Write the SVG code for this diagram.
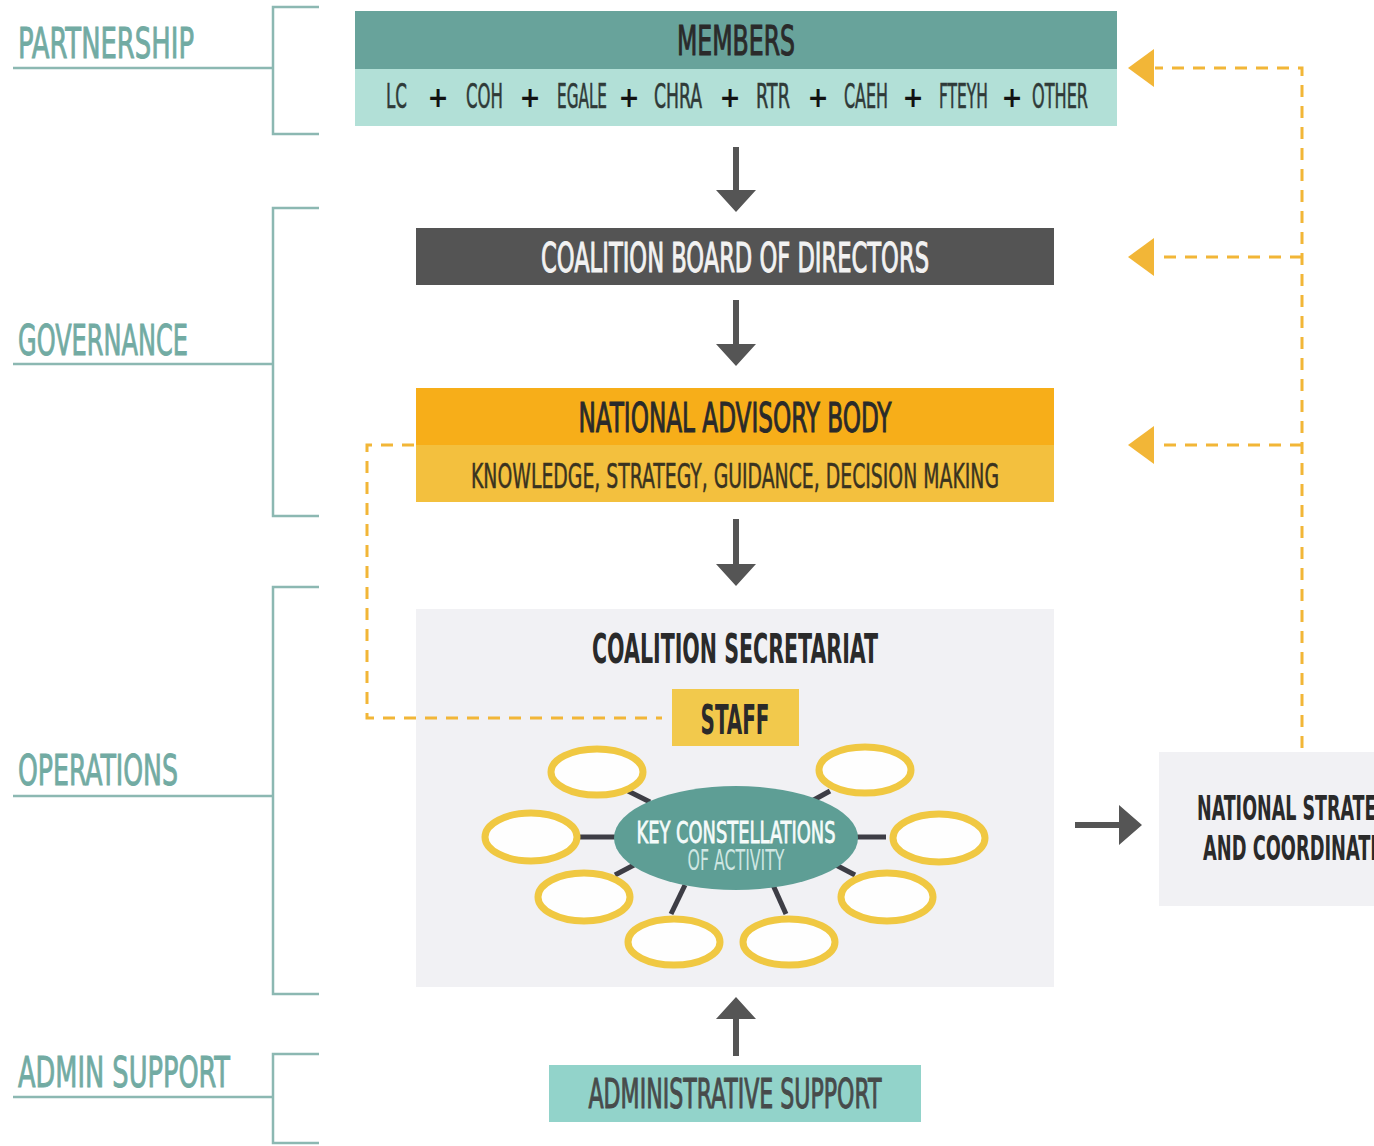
<svg xmlns="http://www.w3.org/2000/svg" width="1374" height="1146" viewBox="0 0 1374 1146">
<style>
text{font-family:"DejaVu Sans Condensed","Liberation Sans Narrow","Liberation Sans",sans-serif;font-stretch:condensed}
.lbl{fill:#72aba3;stroke:#72aba3;stroke-width:0.9;font-size:43px}
.brk{fill:none;stroke:#8cb8b2;stroke-width:2.5}
.dk{fill:#2a2a2a}
.h{font-size:40px;text-anchor:middle}
.t{stroke-width:1}
.m{font-size:33px;fill:#2f3a38;stroke:#2f3a38;stroke-width:0.6}
.plus{font-size:28px;font-weight:bold;fill:#111;text-anchor:middle}
.arr{fill:#555555}
.dash{fill:none;stroke:#f2b637;stroke-width:3;stroke-dasharray:12 9}
.oh{fill:#f2b637}
.sat{fill:#fefefe;stroke:#f0c842;stroke-width:7}
.spk{stroke:#3d3d45;stroke-width:5}
</style>
<g id="side-labels">
<text class="lbl" x="18" y="58" textLength="176" lengthAdjust="spacingAndGlyphs">PARTNERSHIP</text>
<path class="brk" d="M13 68H273M319 7H273V134H319"/>
<text class="lbl" x="18" y="355" textLength="170" lengthAdjust="spacingAndGlyphs">GOVERNANCE</text>
<path class="brk" d="M13 364H273M319 208H273V516H319"/>
<text class="lbl" x="18" y="785" textLength="160" lengthAdjust="spacingAndGlyphs">OPERATIONS</text>
<path class="brk" d="M13 796H273M319 587H273V994H319"/>
<text class="lbl" x="18" y="1087" textLength="212" lengthAdjust="spacingAndGlyphs">ADMIN SUPPORT</text>
<path class="brk" d="M13 1097H273M319 1054H273V1143H319"/>
</g>
<g id="members">
<rect x="355" y="11" width="762" height="58" fill="#68a39b"/>
<rect x="355" y="69" width="762" height="57" fill="#b2e0d7"/>
<text class="h dk t" stroke="#2a2a2a" x="736" y="55" font-size="39" textLength="118" lengthAdjust="spacingAndGlyphs">MEMBERS</text>
<text class="m" x="386" y="108" textLength="21" lengthAdjust="spacingAndGlyphs">LC</text>
<text class="m" x="466" y="108" textLength="37" lengthAdjust="spacingAndGlyphs">COH</text>
<text class="m" x="557" y="108" textLength="50" lengthAdjust="spacingAndGlyphs">EGALE</text>
<text class="m" x="654" y="108" textLength="48" lengthAdjust="spacingAndGlyphs">CHRA</text>
<text class="m" x="756" y="108" textLength="34" lengthAdjust="spacingAndGlyphs">RTR</text>
<text class="m" x="844" y="108" textLength="44" lengthAdjust="spacingAndGlyphs">CAEH</text>
<text class="m" x="939" y="108" textLength="49" lengthAdjust="spacingAndGlyphs">FTEYH</text>
<text class="m" x="1032" y="108" textLength="56" lengthAdjust="spacingAndGlyphs">OTHER</text>
<text class="plus" x="438" y="107">+</text>
<text class="plus" x="530" y="107">+</text>
<text class="plus" x="629" y="107">+</text>
<text class="plus" x="730" y="107">+</text>
<text class="plus" x="818" y="107">+</text>
<text class="plus" x="913" y="107">+</text>
<text class="plus" x="1012" y="107">+</text>
</g>
<g id="board">
<rect x="416" y="228" width="638" height="57" fill="#545454"/>
<text class="h t" fill="#f2f2f2" stroke="#f2f2f2" x="735" y="272" textLength="388" lengthAdjust="spacingAndGlyphs">COALITION BOARD OF DIRECTORS</text>
</g>
<g id="advisory">
<rect x="416" y="388" width="638" height="57" fill="#f7ae19"/>
<rect x="416" y="445" width="638" height="57" fill="#f3c03e"/>
<text class="h dk t" stroke="#2a2a2a" x="735" y="432" textLength="313" lengthAdjust="spacingAndGlyphs">NATIONAL ADVISORY BODY</text>
<text x="471" y="488" font-size="34" textLength="528" lengthAdjust="spacingAndGlyphs" fill="#3a3320" stroke="#3a3320" stroke-width="0.5">KNOWLEDGE, STRATEGY, GUIDANCE, DECISION MAKING</text>
</g>
<g id="secretariat">
<rect x="416" y="609" width="638" height="378" fill="#f1f1f4"/>
<text class="h dk" x="735" y="663" font-weight="bold" textLength="286" lengthAdjust="spacingAndGlyphs">COALITION SECRETARIAT</text>
</g>
<g id="staff">
<rect x="672" y="689" width="127" height="57" fill="#f2c94c"/>
<text class="h dk" x="735" y="734" font-weight="bold" textLength="69" lengthAdjust="spacingAndGlyphs">STAFF</text>
</g>
<g id="constellations">
<line class="spk" x1="628" y1="791" x2="650" y2="802"/>
<line class="spk" x1="830" y1="791" x2="810" y2="802"/>
<line class="spk" x1="578" y1="837" x2="616" y2="837"/>
<line class="spk" x1="846" y1="837" x2="886" y2="837"/>
<line class="spk" x1="615" y1="875" x2="634" y2="865"/>
<line class="spk" x1="855" y1="875" x2="834" y2="864"/>
<line class="spk" x1="685" y1="885" x2="671" y2="914"/>
<line class="spk" x1="773" y1="885" x2="786" y2="914"/>
<ellipse cx="736" cy="838" rx="122" ry="52" fill="#5e9e95"/>
<text x="736" y="843" font-size="31" fill="#f4fbfa" stroke="#f4fbfa" stroke-width="0.8" text-anchor="middle" textLength="199" lengthAdjust="spacingAndGlyphs">KEY CONSTELLATIONS</text>
<text x="736" y="870" font-size="29" fill="#cfe7e3" text-anchor="middle" textLength="97" lengthAdjust="spacingAndGlyphs">OF ACTIVITY</text>
</g>
<g id="activity-1"><ellipse class="sat" cx="597" cy="772" rx="46" ry="23"/></g>
<g id="activity-2"><ellipse class="sat" cx="865" cy="770" rx="46" ry="23"/></g>
<g id="activity-3"><ellipse class="sat" cx="531" cy="837" rx="46" ry="24"/></g>
<g id="activity-4"><ellipse class="sat" cx="939" cy="838" rx="46" ry="24"/></g>
<g id="activity-5"><ellipse class="sat" cx="584" cy="897" rx="46" ry="24"/></g>
<g id="activity-6"><ellipse class="sat" cx="887" cy="897" rx="46" ry="24"/></g>
<g id="activity-7"><ellipse class="sat" cx="674" cy="942" rx="46" ry="23"/></g>
<g id="activity-8"><ellipse class="sat" cx="789" cy="942" rx="46" ry="23"/></g>
<g id="national-strategy">
<rect x="1159" y="752" width="220" height="154" fill="#f1f1f4"/>
<text class="dk" x="1197" y="820" font-size="33" font-weight="bold" textLength="206" lengthAdjust="spacingAndGlyphs">NATIONAL STRATEGY</text>
<text class="dk" x="1203" y="860" font-size="33" font-weight="bold" textLength="204" lengthAdjust="spacingAndGlyphs">AND COORDINATION</text>
</g>
<g id="admin">
<rect x="549" y="1065" width="372" height="57" fill="#92d3ca"/>
<text class="h t" fill="#474b4b" stroke="#474b4b" x="735" y="1108" font-size="37" textLength="293" lengthAdjust="spacingAndGlyphs">ADMINISTRATIVE SUPPORT</text>
</g>
<g id="connectors">
<polygon class="arr" points="733,147 739,147 739,190 756,190 736,212 716,190 733,190"/>
<polygon class="arr" points="733,300 739,300 739,344 756,344 736,366 716,344 733,344"/>
<polygon class="arr" points="733,519 739,519 739,564 756,564 736,586 716,564 733,564"/>
<polygon class="arr" points="733,1056 739,1056 739,1019 756,1019 736,997 716,1019 733,1019"/>
<polygon class="arr" points="1075,822 1119,822 1119,805 1142,825 1119,845 1119,828 1075,828"/>
<path class="dash" d="M1302 748V68H1155M1302 257H1155M1302 445H1155"/>
<polygon class="oh" points="1128,68 1154,49 1154,87"/>
<polygon class="oh" points="1128,257 1154,238 1154,276"/>
<polygon class="oh" points="1128,445 1154,426 1154,464"/>
<path class="dash" d="M414 445H367V718H662"/>
</g>
</svg>
